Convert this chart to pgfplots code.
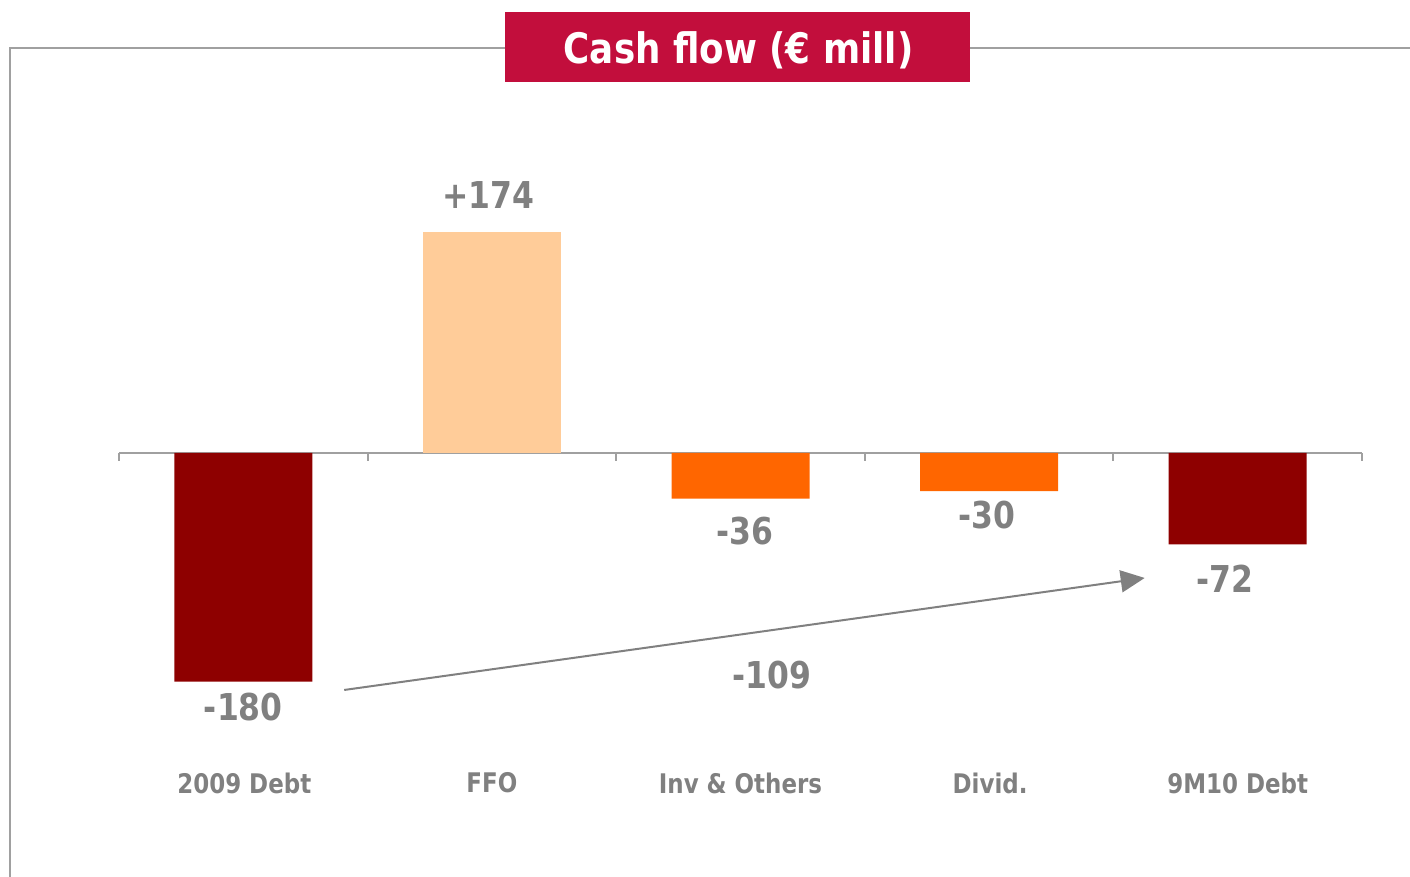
\documentclass[border=0pt]{standalone}
\usepackage{fontspec}
\setmainfont{DejaVu Sans}[FakeStretch=0.85]
\newfontfamily\titlefont{DejaVu Sans}[FakeStretch=0.85]
\usepackage{pgfplots}
\pgfplotsset{compat=1.18}
\usetikzlibrary{arrows.meta}
\definecolor{darkred}{HTML}{8E0000}
\definecolor{peach}{HTML}{FFCC99}
\definecolor{orng}{HTML}{FF6600}
\definecolor{titlered}{HTML}{C20E3C}
\definecolor{txtgray}{HTML}{808080}
\definecolor{framegray}{HTML}{A0A0A0}
\begin{document}
\begin{tikzpicture}
\useasboundingbox (0,0) rectangle (705pt,438.5pt);
% frame and title
\draw[framegray, line width=1pt] (5pt,0) -- (5pt,414.5pt) -- (252.5pt,414.5pt);
\draw[framegray, line width=1pt] (485pt,414.5pt) -- (705pt,414.5pt);
\fill[titlered] (252.5pt,397.5pt) rectangle (485pt,432.5pt);
\node[anchor=base, text=white, inner sep=0pt, font=\titlefont\fontsize{21pt}{25pt}\bfseries] at (369.25pt,406.5pt) {Cash flow (€ mill)};
\begin{axis}[
  at={(59.5pt,85pt)}, anchor=south west,
  scale only axis, width=621.5pt, height=254pt,
  xmin=-0.5, xmax=4.5, ymin=-200, ymax=200,
  axis x line=middle, axis y line=none,
  x axis line style={-, framegray, line width=1pt},
  xtick={-0.5,0.5,1.5,2.5,3.5,4.5}, xticklabels={},
  tick align=outside, major tick length=4pt,
  xtick style={framegray, line width=1pt},
  clip=false,
]
\addplot[ybar, bar shift=0pt, bar width=69pt, fill=darkred, draw=none] coordinates {(0,-180) (4,-72)};
\addplot[ybar, bar shift=0pt, bar width=69pt, fill=peach, draw=none] coordinates {(1,174)};
\addplot[ybar, bar shift=0pt, bar width=69pt, fill=orng, draw=none] coordinates {(2,-36) (3,-30)};
\tikzset{vlab/.style={text=txtgray, font=\fontsize{18.5pt}{22pt}\bfseries, inner sep=0pt}}
\node[vlab] at (axis cs:0,-200) {-180};
\node[vlab] at (axis cs:0.986,203) {+174};
\node[vlab] at (axis cs:2.016,-61.4) {-36};
\node[vlab] at (axis cs:2.99,-48.8) {-30};
\node[vlab] at (axis cs:3.95,-99.2) {-72};
\node[vlab] at (axis cs:2.125,-174.8) {-109};
\tikzset{clab/.style={text=txtgray, font=\fontsize{13.5pt}{16pt}\bfseries, inner sep=0pt}}
\node[clab] at (axis cs:0.004,-259.8) {2009 Debt};
\node[clab] at (axis cs:1,-259.8) {FFO};
\node[clab] at (axis cs:2,-259.8) {Inv \& Others};
\node[clab] at (axis cs:3.004,-259.8) {Divid.};
\node[clab] at (axis cs:4,-259.8) {9M10 Debt};
\draw[txtgray, line width=1pt, -{Triangle[length=12pt,width=11pt]}] (axis cs:0.406,-186.6) -- (axis cs:3.626,-98.4);
\end{axis}
\end{tikzpicture}
\end{document}
